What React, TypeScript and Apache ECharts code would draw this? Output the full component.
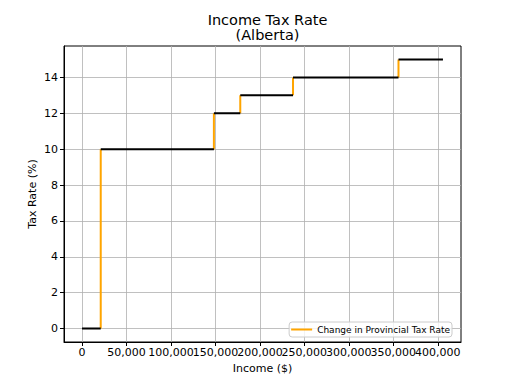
import React, { useEffect, useRef } from "react";
import * as echarts from "echarts";

const thresholds = [21003, 148269, 177922, 237230, 355845];
const rates = [0, 10, 12, 13, 14, 15];
const incomeMax = 405845;
const xTicksEven = [0, 100000, 200000, 300000, 400000];
const xTicksOdd = [50000, 150000, 250000, 350000];
const yTicks = [0, 2, 4, 6, 8, 10, 12, 14];

const FONT = "DejaVu Sans";

export default function App() {
  const ref = useRef<HTMLDivElement>(null);
  useEffect(() => {
    if (!ref.current) return;
    const chart = echarts.init(ref.current, undefined, { renderer: "svg" });

    const horiz: any[] = [];
    for (let i = 0; i < rates.length; i++) {
      const start = i === 0 ? 0 : thresholds[i - 1];
      const end = i < thresholds.length ? thresholds[i] : incomeMax;
      horiz.push([start, rates[i]], [end, rates[i]], "-");
    }
    const vert: any[] = [];
    for (let i = 0; i < thresholds.length; i++) {
      vert.push([thresholds[i], rates[i]], [thresholds[i], rates[i + 1]], "-");
    }
    const xPad = incomeMax * 0.05;
    const yPad = (rates[rates.length - 1] - rates[0]) * 0.05;

    const xAxisBase = (ticks: number[], main: boolean) => ({
      type: "value",
      position: "bottom",
      min: -xPad,
      max: incomeMax + xPad,
      name: main ? "Income ($)" : "",
      nameLocation: "middle",
      nameGap: 21,
      nameTextStyle: { fontFamily: FONT, fontSize: 11, color: "#000" },
      axisLine: { show: main, onZero: false, lineStyle: { color: "#000", width: 1 } },
      axisTick: { show: true, length: 4, lineStyle: { color: "#000" }, customValues: ticks },
      axisLabel: {
        customValues: ticks,
        showMinLabel: true,
        showMaxLabel: true,
        hideOverlap: false,
        fontFamily: FONT,
        fontSize: 11,
        color: "#000",
        margin: 5,
        formatter: (v: number) => v.toLocaleString("en-US"),
      },
      splitLine: { show: true, lineStyle: { color: "#b0b0b0", width: 0.8 } },
    });

    chart.setOption({
      animation: false,
      backgroundColor: "#ffffff",
      textStyle: { fontFamily: FONT },
      title: {
        text: "Income Tax Rate\n(Alberta)",
        left: 262.5,
        top: 7,
        textAlign: "center",
        textStyle: { fontFamily: FONT, fontSize: 14.5, fontWeight: "normal", color: "#000", lineHeight: 15 },
      },
      legend: {
        data: ["Change in Provincial Tax Rate"],
        right: 60,
        bottom: 47,
        icon: "rect",
        itemWidth: 21,
        itemHeight: 2,
        itemGap: 6,
        backgroundColor: "rgba(255,255,255,0.8)",
        borderColor: "#cccccc",
        borderWidth: 1,
        borderRadius: 3,
        padding: [3, 2, 3, 2],
        textStyle: { fontFamily: FONT, fontSize: 9, color: "#000" },
      },
      grid: {
        left: 64,
        right: 51,
        top: 46,
        bottom: 42,
        show: true,
        borderColor: "#000",
        borderWidth: 1,
        backgroundColor: "transparent",
      },
      xAxis: [xAxisBase(xTicksEven, true), { ...xAxisBase(xTicksOdd, false), offset: 0 }],
      yAxis: {
        type: "value",
        min: rates[0] - yPad,
        max: rates[rates.length - 1] + yPad,
        name: "Tax Rate (%)",
        nameLocation: "middle",
        nameGap: 26,
        nameMoveOverlap: false,
        nameTextStyle: { fontFamily: FONT, fontSize: 11, color: "#000" },
        axisLine: { show: true, onZero: false, lineStyle: { color: "#000", width: 1 } },
        axisTick: { show: true, length: 4, lineStyle: { color: "#000" }, customValues: yTicks },
        axisLabel: { customValues: yTicks, fontFamily: FONT, fontSize: 11, color: "#000", margin: 6 },
        splitLine: { show: true, lineStyle: { color: "#b0b0b0", width: 0.8 } },
      },
      series: [
        {
          name: "Change in Provincial Tax Rate",
          type: "line",
          xAxisIndex: 0,
          data: vert,
          showSymbol: false,
          symbol: "none",
          connectNulls: false,
          color: "#FFA500",
          lineStyle: { color: "#FFA500", width: 2 },
          z: 2,
        },
        {
          name: "Rate",
          type: "line",
          xAxisIndex: 0,
          data: horiz,
          showSymbol: false,
          symbol: "none",
          connectNulls: false,
          color: "#000",
          lineStyle: { color: "#000", width: 2 },
          z: 3,
        },
      ],
    });
    return () => chart.dispose();
  }, []);
  return <div ref={ref} style={{ width: 512, height: 384, position: "absolute", left: 0, top: 0 }} />;
}
